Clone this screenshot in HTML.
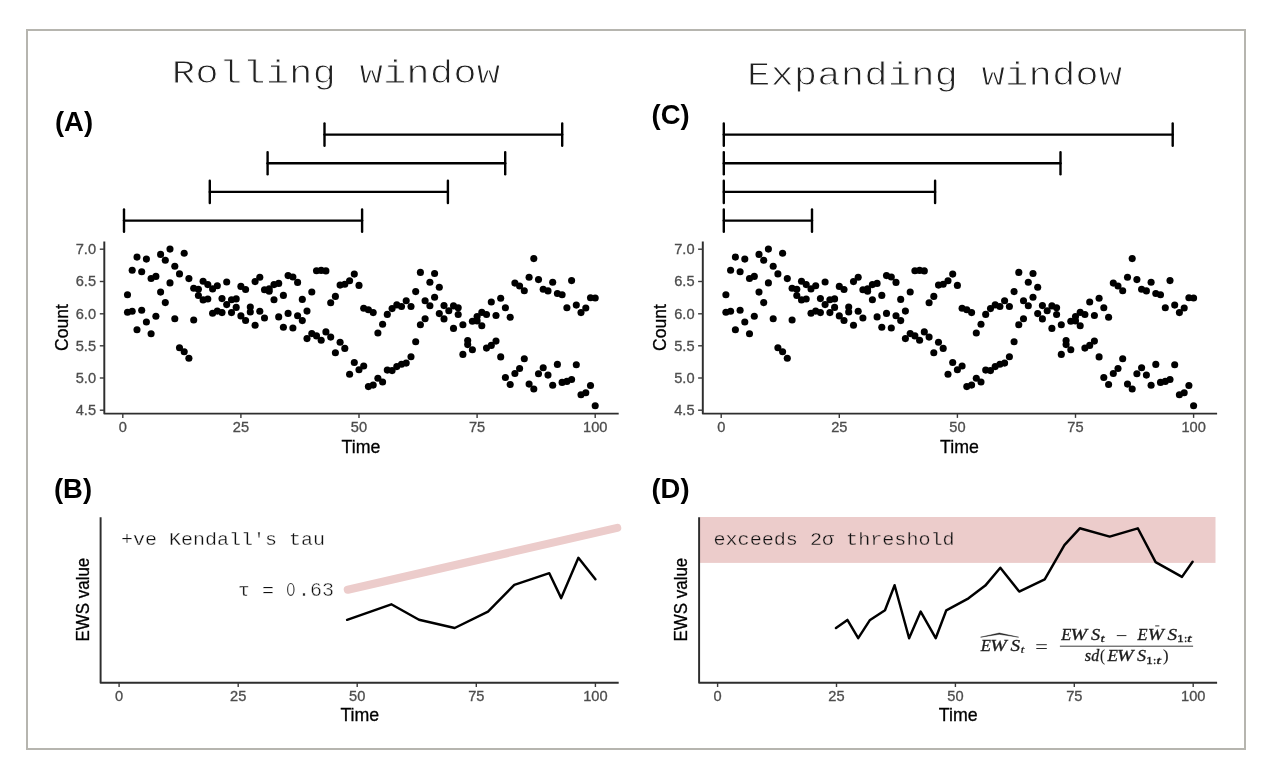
<!DOCTYPE html>
<html><head><meta charset="utf-8"><title>Rolling vs expanding window</title>
<style>
html,body{margin:0;padding:0;background:#fff;}
body{width:1262px;height:778px;overflow:hidden;}
svg{display:block;will-change:transform;}
text{font-family:"Liberation Sans",sans-serif;}
.mono{font-family:"Liberation Mono",monospace;}
.ser{font-family:"Liberation Serif",serif;font-style:italic;}
.tl{font-size:14px;fill:#4d4d4d;stroke:#4d4d4d;stroke-width:0.3px;}
.at{font-size:17.5px;fill:#000;stroke:#000;stroke-width:0.3px;}
.pl{font-size:27.4px;font-weight:bold;fill:#000;}
</style></head><body>
<svg width="1262" height="778" viewBox="0 0 1262 778">
<rect x="0" y="0" width="1262" height="778" fill="#ffffff"/>
<rect x="27" y="30" width="1218" height="719" fill="none" stroke="#b6b5af" stroke-width="2"/>
<text class="mono" transform="translate(336.0,82.9) scale(1,0.86)" font-size="39.1" text-anchor="middle" fill="#222222" stroke="#ffffff" stroke-width="1.1" paint-order="fill stroke" xml:space="preserve">Rolling window</text>
<text class="mono" transform="translate(934.6,84.8) scale(1,0.86)" font-size="39.1" text-anchor="middle" fill="#222222" stroke="#ffffff" stroke-width="1.1" paint-order="fill stroke" xml:space="preserve">Expanding window</text>
<text class="pl" x="55" y="130.9">(A)</text>
<text class="pl" x="651.6" y="123.8">(C)</text>
<text class="pl" x="54" y="497.6">(B)</text>
<text class="pl" x="651.5" y="497.6">(D)</text>
<g stroke="#000" stroke-width="2.4" stroke-linecap="round" fill="none">
<line x1="324.5" y1="134.6" x2="562.2" y2="134.6"/>
<line x1="324.5" y1="123.5" x2="324.5" y2="145.7"/>
<line x1="562.2" y1="123.5" x2="562.2" y2="145.7"/>
</g>
<g stroke="#000" stroke-width="2.4" stroke-linecap="round" fill="none">
<line x1="267.6" y1="163.2" x2="505.2" y2="163.2"/>
<line x1="267.6" y1="152.1" x2="267.6" y2="174.3"/>
<line x1="505.2" y1="152.1" x2="505.2" y2="174.3"/>
</g>
<g stroke="#000" stroke-width="2.4" stroke-linecap="round" fill="none">
<line x1="209.8" y1="191.9" x2="447.9" y2="191.9"/>
<line x1="209.8" y1="180.8" x2="209.8" y2="203.0"/>
<line x1="447.9" y1="180.8" x2="447.9" y2="203.0"/>
</g>
<g stroke="#000" stroke-width="2.4" stroke-linecap="round" fill="none">
<line x1="124.0" y1="220.6" x2="362.1" y2="220.6"/>
<line x1="124.0" y1="209.5" x2="124.0" y2="231.7"/>
<line x1="362.1" y1="209.5" x2="362.1" y2="231.7"/>
</g>
<g stroke="#000" stroke-width="2.4" stroke-linecap="round" fill="none">
<line x1="723.8" y1="134.6" x2="1172.7" y2="134.6"/>
<line x1="723.8" y1="123.5" x2="723.8" y2="145.7"/>
<line x1="1172.7" y1="123.5" x2="1172.7" y2="145.7"/>
</g>
<g stroke="#000" stroke-width="2.4" stroke-linecap="round" fill="none">
<line x1="723.8" y1="163.2" x2="1060.5" y2="163.2"/>
<line x1="723.8" y1="152.1" x2="723.8" y2="174.3"/>
<line x1="1060.5" y1="152.1" x2="1060.5" y2="174.3"/>
</g>
<g stroke="#000" stroke-width="2.4" stroke-linecap="round" fill="none">
<line x1="723.8" y1="191.9" x2="935.1" y2="191.9"/>
<line x1="723.8" y1="180.8" x2="723.8" y2="203.0"/>
<line x1="935.1" y1="180.8" x2="935.1" y2="203.0"/>
</g>
<g stroke="#000" stroke-width="2.4" stroke-linecap="round" fill="none">
<line x1="723.8" y1="220.6" x2="812.0" y2="220.6"/>
<line x1="723.8" y1="209.5" x2="723.8" y2="231.7"/>
<line x1="812.0" y1="209.5" x2="812.0" y2="231.7"/>
</g>
<g>
<path d="M104.3 241.4 V413.6 H618.7" fill="none" stroke="#2e2e2e" stroke-width="1.95" stroke-linejoin="round"/>
<line x1="99.8" y1="249.2" x2="104.3" y2="249.2" stroke="#3a3a3a" stroke-width="1.4"/>
<text class="tl" transform="translate(96.0,253.9) scale(1.045,1)" text-anchor="end">7.0</text>
<line x1="99.8" y1="281.5" x2="104.3" y2="281.5" stroke="#3a3a3a" stroke-width="1.4"/>
<text class="tl" transform="translate(96.0,286.2) scale(1.045,1)" text-anchor="end">6.5</text>
<line x1="99.8" y1="313.8" x2="104.3" y2="313.8" stroke="#3a3a3a" stroke-width="1.4"/>
<text class="tl" transform="translate(96.0,318.5) scale(1.045,1)" text-anchor="end">6.0</text>
<line x1="99.8" y1="345.8" x2="104.3" y2="345.8" stroke="#3a3a3a" stroke-width="1.4"/>
<text class="tl" transform="translate(96.0,350.5) scale(1.045,1)" text-anchor="end">5.5</text>
<line x1="99.8" y1="378.0" x2="104.3" y2="378.0" stroke="#3a3a3a" stroke-width="1.4"/>
<text class="tl" transform="translate(96.0,382.7) scale(1.045,1)" text-anchor="end">5.0</text>
<line x1="99.8" y1="410.2" x2="104.3" y2="410.2" stroke="#3a3a3a" stroke-width="1.4"/>
<text class="tl" transform="translate(96.0,414.9) scale(1.045,1)" text-anchor="end">4.5</text>
<line x1="122.8" y1="413.6" x2="122.8" y2="417.9" stroke="#3a3a3a" stroke-width="1.4"/>
<text class="tl" transform="translate(122.8,431.8) scale(1.045,1)" text-anchor="middle">0</text>
<line x1="240.9" y1="413.6" x2="240.9" y2="417.9" stroke="#3a3a3a" stroke-width="1.4"/>
<text class="tl" transform="translate(240.9,431.8) scale(1.045,1)" text-anchor="middle">25</text>
<line x1="359.0" y1="413.6" x2="359.0" y2="417.9" stroke="#3a3a3a" stroke-width="1.4"/>
<text class="tl" transform="translate(359.0,431.8) scale(1.045,1)" text-anchor="middle">50</text>
<line x1="477.1" y1="413.6" x2="477.1" y2="417.9" stroke="#3a3a3a" stroke-width="1.4"/>
<text class="tl" transform="translate(477.1,431.8) scale(1.045,1)" text-anchor="middle">75</text>
<line x1="595.2" y1="413.6" x2="595.2" y2="417.9" stroke="#3a3a3a" stroke-width="1.4"/>
<text class="tl" transform="translate(595.2,431.8) scale(1.045,1)" text-anchor="middle">100</text>
<text class="at" transform="translate(361.0,452.8) scale(1.015,1)" text-anchor="middle">Time</text>
<text class="at" transform="translate(67.6,327.6) rotate(-90)" text-anchor="middle">Count</text>
<g fill="#000">
<circle cx="127.5" cy="294.7" r="3.55"/>
<circle cx="127.5" cy="312.3" r="3.55"/>
<circle cx="132.2" cy="270.2" r="3.55"/>
<circle cx="132.2" cy="311.3" r="3.55"/>
<circle cx="137.0" cy="257.1" r="3.55"/>
<circle cx="137.0" cy="329.7" r="3.55"/>
<circle cx="141.7" cy="271.8" r="3.55"/>
<circle cx="141.7" cy="310.2" r="3.55"/>
<circle cx="146.4" cy="259.1" r="3.55"/>
<circle cx="146.4" cy="322.0" r="3.55"/>
<circle cx="151.1" cy="278.5" r="3.55"/>
<circle cx="151.1" cy="333.8" r="3.55"/>
<circle cx="155.9" cy="276.4" r="3.55"/>
<circle cx="155.9" cy="316.2" r="3.55"/>
<circle cx="160.6" cy="254.4" r="3.55"/>
<circle cx="160.6" cy="292.1" r="3.55"/>
<circle cx="165.3" cy="260.3" r="3.55"/>
<circle cx="165.3" cy="302.6" r="3.55"/>
<circle cx="170.0" cy="249.1" r="3.55"/>
<circle cx="170.0" cy="282.9" r="3.55"/>
<circle cx="174.8" cy="266.3" r="3.55"/>
<circle cx="174.8" cy="318.8" r="3.55"/>
<circle cx="179.5" cy="273.9" r="3.55"/>
<circle cx="179.5" cy="347.7" r="3.55"/>
<circle cx="184.2" cy="253.2" r="3.55"/>
<circle cx="184.2" cy="351.7" r="3.55"/>
<circle cx="188.9" cy="278.6" r="3.55"/>
<circle cx="188.9" cy="358.3" r="3.55"/>
<circle cx="193.7" cy="288.3" r="3.55"/>
<circle cx="193.7" cy="320.0" r="3.55"/>
<circle cx="198.4" cy="289.2" r="3.55"/>
<circle cx="198.4" cy="295.5" r="3.55"/>
<circle cx="203.1" cy="281.2" r="3.55"/>
<circle cx="203.1" cy="299.9" r="3.55"/>
<circle cx="207.8" cy="284.6" r="3.55"/>
<circle cx="207.8" cy="299.0" r="3.55"/>
<circle cx="212.6" cy="288.9" r="3.55"/>
<circle cx="212.6" cy="313.2" r="3.55"/>
<circle cx="217.3" cy="285.7" r="3.55"/>
<circle cx="217.3" cy="311.1" r="3.55"/>
<circle cx="222.0" cy="298.6" r="3.55"/>
<circle cx="222.0" cy="312.6" r="3.55"/>
<circle cx="226.7" cy="282.0" r="3.55"/>
<circle cx="226.7" cy="304.6" r="3.55"/>
<circle cx="231.5" cy="299.8" r="3.55"/>
<circle cx="231.5" cy="312.6" r="3.55"/>
<circle cx="236.2" cy="298.9" r="3.55"/>
<circle cx="236.2" cy="307.4" r="3.55"/>
<circle cx="240.9" cy="286.4" r="3.55"/>
<circle cx="240.9" cy="315.9" r="3.55"/>
<circle cx="245.6" cy="289.5" r="3.55"/>
<circle cx="245.6" cy="320.5" r="3.55"/>
<circle cx="250.3" cy="307.1" r="3.55"/>
<circle cx="250.3" cy="312.0" r="3.55"/>
<circle cx="255.1" cy="281.6" r="3.55"/>
<circle cx="255.1" cy="325.3" r="3.55"/>
<circle cx="259.8" cy="277.3" r="3.55"/>
<circle cx="259.8" cy="311.2" r="3.55"/>
<circle cx="264.5" cy="289.7" r="3.55"/>
<circle cx="264.5" cy="318.0" r="3.55"/>
<circle cx="269.2" cy="288.8" r="3.55"/>
<circle cx="269.2" cy="291.3" r="3.55"/>
<circle cx="274.0" cy="284.6" r="3.55"/>
<circle cx="274.0" cy="299.8" r="3.55"/>
<circle cx="278.7" cy="283.4" r="3.55"/>
<circle cx="278.7" cy="316.9" r="3.55"/>
<circle cx="283.4" cy="295.4" r="3.55"/>
<circle cx="283.4" cy="327.2" r="3.55"/>
<circle cx="288.1" cy="275.6" r="3.55"/>
<circle cx="288.1" cy="313.4" r="3.55"/>
<circle cx="292.9" cy="277.0" r="3.55"/>
<circle cx="292.9" cy="328.0" r="3.55"/>
<circle cx="297.6" cy="282.4" r="3.55"/>
<circle cx="297.6" cy="315.8" r="3.55"/>
<circle cx="302.3" cy="299.4" r="3.55"/>
<circle cx="302.3" cy="320.6" r="3.55"/>
<circle cx="307.0" cy="311.1" r="3.55"/>
<circle cx="307.0" cy="338.6" r="3.55"/>
<circle cx="311.8" cy="292.0" r="3.55"/>
<circle cx="311.8" cy="333.6" r="3.55"/>
<circle cx="316.5" cy="270.7" r="3.55"/>
<circle cx="316.5" cy="335.9" r="3.55"/>
<circle cx="321.2" cy="270.4" r="3.55"/>
<circle cx="321.2" cy="340.2" r="3.55"/>
<circle cx="325.9" cy="270.9" r="3.55"/>
<circle cx="325.9" cy="331.9" r="3.55"/>
<circle cx="330.7" cy="302.8" r="3.55"/>
<circle cx="330.7" cy="337.1" r="3.55"/>
<circle cx="335.4" cy="296.4" r="3.55"/>
<circle cx="335.4" cy="352.7" r="3.55"/>
<circle cx="340.1" cy="285.1" r="3.55"/>
<circle cx="340.1" cy="342.3" r="3.55"/>
<circle cx="344.8" cy="284.3" r="3.55"/>
<circle cx="344.8" cy="348.4" r="3.55"/>
<circle cx="349.6" cy="280.8" r="3.55"/>
<circle cx="349.6" cy="374.3" r="3.55"/>
<circle cx="354.3" cy="274.1" r="3.55"/>
<circle cx="354.3" cy="362.5" r="3.55"/>
<circle cx="359.0" cy="285.4" r="3.55"/>
<circle cx="359.0" cy="369.8" r="3.55"/>
<circle cx="363.7" cy="308.2" r="3.55"/>
<circle cx="363.7" cy="366.0" r="3.55"/>
<circle cx="368.4" cy="309.7" r="3.55"/>
<circle cx="368.4" cy="386.6" r="3.55"/>
<circle cx="373.2" cy="312.6" r="3.55"/>
<circle cx="373.2" cy="385.1" r="3.55"/>
<circle cx="377.9" cy="333.0" r="3.55"/>
<circle cx="377.9" cy="378.2" r="3.55"/>
<circle cx="382.6" cy="324.2" r="3.55"/>
<circle cx="382.6" cy="382.0" r="3.55"/>
<circle cx="387.3" cy="314.4" r="3.55"/>
<circle cx="387.3" cy="370.1" r="3.55"/>
<circle cx="392.1" cy="308.6" r="3.55"/>
<circle cx="392.1" cy="370.6" r="3.55"/>
<circle cx="396.8" cy="304.9" r="3.55"/>
<circle cx="396.8" cy="366.6" r="3.55"/>
<circle cx="401.5" cy="306.5" r="3.55"/>
<circle cx="401.5" cy="364.3" r="3.55"/>
<circle cx="406.2" cy="300.7" r="3.55"/>
<circle cx="406.2" cy="363.1" r="3.55"/>
<circle cx="411.0" cy="306.5" r="3.55"/>
<circle cx="411.0" cy="356.8" r="3.55"/>
<circle cx="415.7" cy="291.6" r="3.55"/>
<circle cx="415.7" cy="341.7" r="3.55"/>
<circle cx="420.4" cy="272.4" r="3.55"/>
<circle cx="420.4" cy="324.7" r="3.55"/>
<circle cx="425.1" cy="300.7" r="3.55"/>
<circle cx="425.1" cy="318.8" r="3.55"/>
<circle cx="429.9" cy="282.2" r="3.55"/>
<circle cx="429.9" cy="305.7" r="3.55"/>
<circle cx="434.6" cy="273.5" r="3.55"/>
<circle cx="434.6" cy="297.2" r="3.55"/>
<circle cx="439.3" cy="287.2" r="3.55"/>
<circle cx="439.3" cy="313.6" r="3.55"/>
<circle cx="444.0" cy="305.6" r="3.55"/>
<circle cx="444.0" cy="318.9" r="3.55"/>
<circle cx="448.8" cy="310.7" r="3.55"/>
<circle cx="453.5" cy="305.9" r="3.55"/>
<circle cx="453.5" cy="328.4" r="3.55"/>
<circle cx="458.2" cy="307.7" r="3.55"/>
<circle cx="458.2" cy="314.5" r="3.55"/>
<circle cx="462.9" cy="324.7" r="3.55"/>
<circle cx="462.9" cy="354.4" r="3.55"/>
<circle cx="467.7" cy="340.6" r="3.55"/>
<circle cx="467.7" cy="344.6" r="3.55"/>
<circle cx="472.4" cy="321.3" r="3.55"/>
<circle cx="472.4" cy="349.8" r="3.55"/>
<circle cx="477.1" cy="316.6" r="3.55"/>
<circle cx="477.1" cy="320.9" r="3.55"/>
<circle cx="481.8" cy="312.4" r="3.55"/>
<circle cx="481.8" cy="325.7" r="3.55"/>
<circle cx="486.5" cy="314.5" r="3.55"/>
<circle cx="486.5" cy="348.1" r="3.55"/>
<circle cx="491.3" cy="302.0" r="3.55"/>
<circle cx="491.3" cy="345.4" r="3.55"/>
<circle cx="496.0" cy="315.5" r="3.55"/>
<circle cx="496.0" cy="341.1" r="3.55"/>
<circle cx="500.7" cy="298.2" r="3.55"/>
<circle cx="500.7" cy="356.9" r="3.55"/>
<circle cx="505.4" cy="307.8" r="3.55"/>
<circle cx="505.4" cy="377.5" r="3.55"/>
<circle cx="510.2" cy="317.2" r="3.55"/>
<circle cx="510.2" cy="384.5" r="3.55"/>
<circle cx="514.9" cy="283.1" r="3.55"/>
<circle cx="514.9" cy="373.5" r="3.55"/>
<circle cx="519.6" cy="286.0" r="3.55"/>
<circle cx="519.6" cy="368.5" r="3.55"/>
<circle cx="524.3" cy="290.8" r="3.55"/>
<circle cx="524.3" cy="358.7" r="3.55"/>
<circle cx="529.1" cy="277.3" r="3.55"/>
<circle cx="529.1" cy="384.1" r="3.55"/>
<circle cx="533.8" cy="258.6" r="3.55"/>
<circle cx="533.8" cy="389.0" r="3.55"/>
<circle cx="538.5" cy="279.6" r="3.55"/>
<circle cx="538.5" cy="373.7" r="3.55"/>
<circle cx="543.2" cy="289.2" r="3.55"/>
<circle cx="543.2" cy="367.7" r="3.55"/>
<circle cx="548.0" cy="290.9" r="3.55"/>
<circle cx="548.0" cy="375.1" r="3.55"/>
<circle cx="552.7" cy="282.2" r="3.55"/>
<circle cx="552.7" cy="385.3" r="3.55"/>
<circle cx="557.4" cy="293.5" r="3.55"/>
<circle cx="557.4" cy="364.4" r="3.55"/>
<circle cx="562.1" cy="294.7" r="3.55"/>
<circle cx="562.1" cy="382.4" r="3.55"/>
<circle cx="566.9" cy="307.8" r="3.55"/>
<circle cx="566.9" cy="381.4" r="3.55"/>
<circle cx="571.6" cy="280.6" r="3.55"/>
<circle cx="571.6" cy="379.5" r="3.55"/>
<circle cx="576.3" cy="305.1" r="3.55"/>
<circle cx="576.3" cy="364.8" r="3.55"/>
<circle cx="581.0" cy="312.6" r="3.55"/>
<circle cx="581.0" cy="394.8" r="3.55"/>
<circle cx="585.8" cy="308.0" r="3.55"/>
<circle cx="585.8" cy="392.8" r="3.55"/>
<circle cx="590.5" cy="297.8" r="3.55"/>
<circle cx="590.5" cy="385.5" r="3.55"/>
<circle cx="595.2" cy="298.0" r="3.55"/>
<circle cx="595.2" cy="405.7" r="3.55"/>
</g></g>
<g>
<path d="M702.8 241.4 V413.6 H1217.1" fill="none" stroke="#2e2e2e" stroke-width="1.95" stroke-linejoin="round"/>
<line x1="698.1" y1="249.2" x2="702.8" y2="249.2" stroke="#3a3a3a" stroke-width="1.4"/>
<text class="tl" transform="translate(694.5,253.9) scale(1.045,1)" text-anchor="end">7.0</text>
<line x1="698.1" y1="281.5" x2="702.8" y2="281.5" stroke="#3a3a3a" stroke-width="1.4"/>
<text class="tl" transform="translate(694.5,286.2) scale(1.045,1)" text-anchor="end">6.5</text>
<line x1="698.1" y1="313.8" x2="702.8" y2="313.8" stroke="#3a3a3a" stroke-width="1.4"/>
<text class="tl" transform="translate(694.5,318.5) scale(1.045,1)" text-anchor="end">6.0</text>
<line x1="698.1" y1="345.8" x2="702.8" y2="345.8" stroke="#3a3a3a" stroke-width="1.4"/>
<text class="tl" transform="translate(694.5,350.5) scale(1.045,1)" text-anchor="end">5.5</text>
<line x1="698.1" y1="378.0" x2="702.8" y2="378.0" stroke="#3a3a3a" stroke-width="1.4"/>
<text class="tl" transform="translate(694.5,382.7) scale(1.045,1)" text-anchor="end">5.0</text>
<line x1="698.1" y1="410.2" x2="702.8" y2="410.2" stroke="#3a3a3a" stroke-width="1.4"/>
<text class="tl" transform="translate(694.5,414.9) scale(1.045,1)" text-anchor="end">4.5</text>
<line x1="721.2" y1="413.6" x2="721.2" y2="417.9" stroke="#3a3a3a" stroke-width="1.4"/>
<text class="tl" transform="translate(721.2,431.8) scale(1.045,1)" text-anchor="middle">0</text>
<line x1="839.3" y1="413.6" x2="839.3" y2="417.9" stroke="#3a3a3a" stroke-width="1.4"/>
<text class="tl" transform="translate(839.3,431.8) scale(1.045,1)" text-anchor="middle">25</text>
<line x1="957.4" y1="413.6" x2="957.4" y2="417.9" stroke="#3a3a3a" stroke-width="1.4"/>
<text class="tl" transform="translate(957.4,431.8) scale(1.045,1)" text-anchor="middle">50</text>
<line x1="1075.5" y1="413.6" x2="1075.5" y2="417.9" stroke="#3a3a3a" stroke-width="1.4"/>
<text class="tl" transform="translate(1075.5,431.8) scale(1.045,1)" text-anchor="middle">75</text>
<line x1="1193.6" y1="413.6" x2="1193.6" y2="417.9" stroke="#3a3a3a" stroke-width="1.4"/>
<text class="tl" transform="translate(1193.6,431.8) scale(1.045,1)" text-anchor="middle">100</text>
<text class="at" transform="translate(959.4,452.8) scale(1.015,1)" text-anchor="middle">Time</text>
<text class="at" transform="translate(666.0,327.6) rotate(-90)" text-anchor="middle">Count</text>
<g fill="#000">
<circle cx="725.9" cy="294.7" r="3.55"/>
<circle cx="725.9" cy="312.3" r="3.55"/>
<circle cx="730.6" cy="270.2" r="3.55"/>
<circle cx="730.6" cy="311.3" r="3.55"/>
<circle cx="735.4" cy="257.1" r="3.55"/>
<circle cx="735.4" cy="329.7" r="3.55"/>
<circle cx="740.1" cy="271.8" r="3.55"/>
<circle cx="740.1" cy="310.2" r="3.55"/>
<circle cx="744.8" cy="259.1" r="3.55"/>
<circle cx="744.8" cy="322.0" r="3.55"/>
<circle cx="749.5" cy="278.5" r="3.55"/>
<circle cx="749.5" cy="333.8" r="3.55"/>
<circle cx="754.3" cy="276.4" r="3.55"/>
<circle cx="754.3" cy="316.2" r="3.55"/>
<circle cx="759.0" cy="254.4" r="3.55"/>
<circle cx="759.0" cy="292.1" r="3.55"/>
<circle cx="763.7" cy="260.3" r="3.55"/>
<circle cx="763.7" cy="302.6" r="3.55"/>
<circle cx="768.4" cy="249.1" r="3.55"/>
<circle cx="768.4" cy="282.9" r="3.55"/>
<circle cx="773.2" cy="266.3" r="3.55"/>
<circle cx="773.2" cy="318.8" r="3.55"/>
<circle cx="777.9" cy="273.9" r="3.55"/>
<circle cx="777.9" cy="347.7" r="3.55"/>
<circle cx="782.6" cy="253.2" r="3.55"/>
<circle cx="782.6" cy="351.7" r="3.55"/>
<circle cx="787.3" cy="278.6" r="3.55"/>
<circle cx="787.3" cy="358.3" r="3.55"/>
<circle cx="792.1" cy="288.3" r="3.55"/>
<circle cx="792.1" cy="320.0" r="3.55"/>
<circle cx="796.8" cy="289.2" r="3.55"/>
<circle cx="796.8" cy="295.5" r="3.55"/>
<circle cx="801.5" cy="281.2" r="3.55"/>
<circle cx="801.5" cy="299.9" r="3.55"/>
<circle cx="806.2" cy="284.6" r="3.55"/>
<circle cx="806.2" cy="299.0" r="3.55"/>
<circle cx="811.0" cy="288.9" r="3.55"/>
<circle cx="811.0" cy="313.2" r="3.55"/>
<circle cx="815.7" cy="285.7" r="3.55"/>
<circle cx="815.7" cy="311.1" r="3.55"/>
<circle cx="820.4" cy="298.6" r="3.55"/>
<circle cx="820.4" cy="312.6" r="3.55"/>
<circle cx="825.1" cy="282.0" r="3.55"/>
<circle cx="825.1" cy="304.6" r="3.55"/>
<circle cx="829.9" cy="299.8" r="3.55"/>
<circle cx="829.9" cy="312.6" r="3.55"/>
<circle cx="834.6" cy="298.9" r="3.55"/>
<circle cx="834.6" cy="307.4" r="3.55"/>
<circle cx="839.3" cy="286.4" r="3.55"/>
<circle cx="839.3" cy="315.9" r="3.55"/>
<circle cx="844.0" cy="289.5" r="3.55"/>
<circle cx="844.0" cy="320.5" r="3.55"/>
<circle cx="848.7" cy="307.1" r="3.55"/>
<circle cx="848.7" cy="312.0" r="3.55"/>
<circle cx="853.5" cy="281.6" r="3.55"/>
<circle cx="853.5" cy="325.3" r="3.55"/>
<circle cx="858.2" cy="277.3" r="3.55"/>
<circle cx="858.2" cy="311.2" r="3.55"/>
<circle cx="862.9" cy="289.7" r="3.55"/>
<circle cx="862.9" cy="318.0" r="3.55"/>
<circle cx="867.6" cy="288.8" r="3.55"/>
<circle cx="867.6" cy="291.3" r="3.55"/>
<circle cx="872.4" cy="284.6" r="3.55"/>
<circle cx="872.4" cy="299.8" r="3.55"/>
<circle cx="877.1" cy="283.4" r="3.55"/>
<circle cx="877.1" cy="316.9" r="3.55"/>
<circle cx="881.8" cy="295.4" r="3.55"/>
<circle cx="881.8" cy="327.2" r="3.55"/>
<circle cx="886.5" cy="275.6" r="3.55"/>
<circle cx="886.5" cy="313.4" r="3.55"/>
<circle cx="891.3" cy="277.0" r="3.55"/>
<circle cx="891.3" cy="328.0" r="3.55"/>
<circle cx="896.0" cy="282.4" r="3.55"/>
<circle cx="896.0" cy="315.8" r="3.55"/>
<circle cx="900.7" cy="299.4" r="3.55"/>
<circle cx="900.7" cy="320.6" r="3.55"/>
<circle cx="905.4" cy="311.1" r="3.55"/>
<circle cx="905.4" cy="338.6" r="3.55"/>
<circle cx="910.2" cy="292.0" r="3.55"/>
<circle cx="910.2" cy="333.6" r="3.55"/>
<circle cx="914.9" cy="270.7" r="3.55"/>
<circle cx="914.9" cy="335.9" r="3.55"/>
<circle cx="919.6" cy="270.4" r="3.55"/>
<circle cx="919.6" cy="340.2" r="3.55"/>
<circle cx="924.3" cy="270.9" r="3.55"/>
<circle cx="924.3" cy="331.9" r="3.55"/>
<circle cx="929.1" cy="302.8" r="3.55"/>
<circle cx="929.1" cy="337.1" r="3.55"/>
<circle cx="933.8" cy="296.4" r="3.55"/>
<circle cx="933.8" cy="352.7" r="3.55"/>
<circle cx="938.5" cy="285.1" r="3.55"/>
<circle cx="938.5" cy="342.3" r="3.55"/>
<circle cx="943.2" cy="284.3" r="3.55"/>
<circle cx="943.2" cy="348.4" r="3.55"/>
<circle cx="948.0" cy="280.8" r="3.55"/>
<circle cx="948.0" cy="374.3" r="3.55"/>
<circle cx="952.7" cy="274.1" r="3.55"/>
<circle cx="952.7" cy="362.5" r="3.55"/>
<circle cx="957.4" cy="285.4" r="3.55"/>
<circle cx="957.4" cy="369.8" r="3.55"/>
<circle cx="962.1" cy="308.2" r="3.55"/>
<circle cx="962.1" cy="366.0" r="3.55"/>
<circle cx="966.8" cy="309.7" r="3.55"/>
<circle cx="966.8" cy="386.6" r="3.55"/>
<circle cx="971.6" cy="312.6" r="3.55"/>
<circle cx="971.6" cy="385.1" r="3.55"/>
<circle cx="976.3" cy="333.0" r="3.55"/>
<circle cx="976.3" cy="378.2" r="3.55"/>
<circle cx="981.0" cy="324.2" r="3.55"/>
<circle cx="981.0" cy="382.0" r="3.55"/>
<circle cx="985.7" cy="314.4" r="3.55"/>
<circle cx="985.7" cy="370.1" r="3.55"/>
<circle cx="990.5" cy="308.6" r="3.55"/>
<circle cx="990.5" cy="370.6" r="3.55"/>
<circle cx="995.2" cy="304.9" r="3.55"/>
<circle cx="995.2" cy="366.6" r="3.55"/>
<circle cx="999.9" cy="306.5" r="3.55"/>
<circle cx="999.9" cy="364.3" r="3.55"/>
<circle cx="1004.6" cy="300.7" r="3.55"/>
<circle cx="1004.6" cy="363.1" r="3.55"/>
<circle cx="1009.4" cy="306.5" r="3.55"/>
<circle cx="1009.4" cy="356.8" r="3.55"/>
<circle cx="1014.1" cy="291.6" r="3.55"/>
<circle cx="1014.1" cy="341.7" r="3.55"/>
<circle cx="1018.8" cy="272.4" r="3.55"/>
<circle cx="1018.8" cy="324.7" r="3.55"/>
<circle cx="1023.5" cy="300.7" r="3.55"/>
<circle cx="1023.5" cy="318.8" r="3.55"/>
<circle cx="1028.3" cy="282.2" r="3.55"/>
<circle cx="1028.3" cy="305.7" r="3.55"/>
<circle cx="1033.0" cy="273.5" r="3.55"/>
<circle cx="1033.0" cy="297.2" r="3.55"/>
<circle cx="1037.7" cy="287.2" r="3.55"/>
<circle cx="1037.7" cy="313.6" r="3.55"/>
<circle cx="1042.4" cy="305.6" r="3.55"/>
<circle cx="1042.4" cy="318.9" r="3.55"/>
<circle cx="1047.2" cy="310.7" r="3.55"/>
<circle cx="1051.9" cy="305.9" r="3.55"/>
<circle cx="1051.9" cy="328.4" r="3.55"/>
<circle cx="1056.6" cy="307.7" r="3.55"/>
<circle cx="1056.6" cy="314.5" r="3.55"/>
<circle cx="1061.3" cy="324.7" r="3.55"/>
<circle cx="1061.3" cy="354.4" r="3.55"/>
<circle cx="1066.1" cy="340.6" r="3.55"/>
<circle cx="1066.1" cy="344.6" r="3.55"/>
<circle cx="1070.8" cy="321.3" r="3.55"/>
<circle cx="1070.8" cy="349.8" r="3.55"/>
<circle cx="1075.5" cy="316.6" r="3.55"/>
<circle cx="1075.5" cy="320.9" r="3.55"/>
<circle cx="1080.2" cy="312.4" r="3.55"/>
<circle cx="1080.2" cy="325.7" r="3.55"/>
<circle cx="1084.9" cy="314.5" r="3.55"/>
<circle cx="1084.9" cy="348.1" r="3.55"/>
<circle cx="1089.7" cy="302.0" r="3.55"/>
<circle cx="1089.7" cy="345.4" r="3.55"/>
<circle cx="1094.4" cy="315.5" r="3.55"/>
<circle cx="1094.4" cy="341.1" r="3.55"/>
<circle cx="1099.1" cy="298.2" r="3.55"/>
<circle cx="1099.1" cy="356.9" r="3.55"/>
<circle cx="1103.8" cy="307.8" r="3.55"/>
<circle cx="1103.8" cy="377.5" r="3.55"/>
<circle cx="1108.6" cy="317.2" r="3.55"/>
<circle cx="1108.6" cy="384.5" r="3.55"/>
<circle cx="1113.3" cy="283.1" r="3.55"/>
<circle cx="1113.3" cy="373.5" r="3.55"/>
<circle cx="1118.0" cy="286.0" r="3.55"/>
<circle cx="1118.0" cy="368.5" r="3.55"/>
<circle cx="1122.7" cy="290.8" r="3.55"/>
<circle cx="1122.7" cy="358.7" r="3.55"/>
<circle cx="1127.5" cy="277.3" r="3.55"/>
<circle cx="1127.5" cy="384.1" r="3.55"/>
<circle cx="1132.2" cy="258.6" r="3.55"/>
<circle cx="1132.2" cy="389.0" r="3.55"/>
<circle cx="1136.9" cy="279.6" r="3.55"/>
<circle cx="1136.9" cy="373.7" r="3.55"/>
<circle cx="1141.6" cy="289.2" r="3.55"/>
<circle cx="1141.6" cy="367.7" r="3.55"/>
<circle cx="1146.4" cy="290.9" r="3.55"/>
<circle cx="1146.4" cy="375.1" r="3.55"/>
<circle cx="1151.1" cy="282.2" r="3.55"/>
<circle cx="1151.1" cy="385.3" r="3.55"/>
<circle cx="1155.8" cy="293.5" r="3.55"/>
<circle cx="1155.8" cy="364.4" r="3.55"/>
<circle cx="1160.5" cy="294.7" r="3.55"/>
<circle cx="1160.5" cy="382.4" r="3.55"/>
<circle cx="1165.3" cy="307.8" r="3.55"/>
<circle cx="1165.3" cy="381.4" r="3.55"/>
<circle cx="1170.0" cy="280.6" r="3.55"/>
<circle cx="1170.0" cy="379.5" r="3.55"/>
<circle cx="1174.7" cy="305.1" r="3.55"/>
<circle cx="1174.7" cy="364.8" r="3.55"/>
<circle cx="1179.4" cy="312.6" r="3.55"/>
<circle cx="1179.4" cy="394.8" r="3.55"/>
<circle cx="1184.2" cy="308.0" r="3.55"/>
<circle cx="1184.2" cy="392.8" r="3.55"/>
<circle cx="1188.9" cy="297.8" r="3.55"/>
<circle cx="1188.9" cy="385.5" r="3.55"/>
<circle cx="1193.6" cy="298.0" r="3.55"/>
<circle cx="1193.6" cy="405.7" r="3.55"/>
</g></g>
<g>
<line x1="347.8" y1="589.7" x2="617.2" y2="527.9" stroke="#eccccb" stroke-width="8.1" stroke-linecap="round"/>
<path d="M100.6 517.3 V682.8 H618.7" fill="none" stroke="#2e2e2e" stroke-width="1.95" stroke-linejoin="round"/>
<line x1="119.1" y1="682.8" x2="119.1" y2="687.0" stroke="#3a3a3a" stroke-width="1.4"/>
<text class="tl" transform="translate(119.1,700.8) scale(1.045,1)" text-anchor="middle">0</text>
<line x1="238.2" y1="682.8" x2="238.2" y2="687.0" stroke="#3a3a3a" stroke-width="1.4"/>
<text class="tl" transform="translate(238.2,700.8) scale(1.045,1)" text-anchor="middle">25</text>
<line x1="357.2" y1="682.8" x2="357.2" y2="687.0" stroke="#3a3a3a" stroke-width="1.4"/>
<text class="tl" transform="translate(357.2,700.8) scale(1.045,1)" text-anchor="middle">50</text>
<line x1="476.3" y1="682.8" x2="476.3" y2="687.0" stroke="#3a3a3a" stroke-width="1.4"/>
<text class="tl" transform="translate(476.3,700.8) scale(1.045,1)" text-anchor="middle">75</text>
<line x1="595.4" y1="682.8" x2="595.4" y2="687.0" stroke="#3a3a3a" stroke-width="1.4"/>
<text class="tl" transform="translate(595.4,700.8) scale(1.045,1)" text-anchor="middle">100</text>
<text class="at" transform="translate(359.8,720.6) scale(1.015,1)" text-anchor="middle">Time</text>
<text class="at" transform="translate(88.5,599.6) rotate(-90) scale(0.967,1)" text-anchor="middle">EWS value</text>
<text class="mono" transform="translate(121.1,544.6) scale(1,0.88)" font-size="20" text-anchor="start" fill="#101010" stroke="#ffffff" stroke-width="0.35" paint-order="fill stroke" xml:space="preserve">+ve Kendall's tau</text>
<text class="mono" transform="translate(238.0,596.1) scale(1,0.88)" font-size="20" text-anchor="start" fill="#101010" stroke="#ffffff" stroke-width="0.35" paint-order="fill stroke" xml:space="preserve">τ =</text>
<text class="mono" transform="translate(298.0,595.9) scale(1,0.99)" font-size="20" text-anchor="start" fill="#101010" stroke="#ffffff" stroke-width="0.44999999999999996" paint-order="fill stroke" xml:space="preserve">.63</text>
<ellipse cx="290.8" cy="589.4" rx="3.2" ry="5.95" fill="none" stroke="#3a3a3a" stroke-width="1.15"/>
<polyline points="347.1,619.8 391.3,604.3 419.0,619.8 454.7,628.0 488.0,611.6 514.3,584.9 549.3,573.2 561.2,598.1 578.4,557.8 595.4,579.3" fill="none" stroke="#000" stroke-width="2.45" stroke-linejoin="round" stroke-linecap="round"/>
</g>
<g>
<rect x="700.0" y="517.0" width="515.5" height="45.9" fill="#eccccb"/>
<path d="M699.1 517.3 V682.8 H1217.1" fill="none" stroke="#2e2e2e" stroke-width="1.95" stroke-linejoin="round"/>
<line x1="717.6" y1="682.8" x2="717.6" y2="687.0" stroke="#3a3a3a" stroke-width="1.4"/>
<text class="tl" transform="translate(717.6,700.8) scale(1.045,1)" text-anchor="middle">0</text>
<line x1="836.5" y1="682.8" x2="836.5" y2="687.0" stroke="#3a3a3a" stroke-width="1.4"/>
<text class="tl" transform="translate(836.5,700.8) scale(1.045,1)" text-anchor="middle">25</text>
<line x1="955.4" y1="682.8" x2="955.4" y2="687.0" stroke="#3a3a3a" stroke-width="1.4"/>
<text class="tl" transform="translate(955.4,700.8) scale(1.045,1)" text-anchor="middle">50</text>
<line x1="1074.3" y1="682.8" x2="1074.3" y2="687.0" stroke="#3a3a3a" stroke-width="1.4"/>
<text class="tl" transform="translate(1074.3,700.8) scale(1.045,1)" text-anchor="middle">75</text>
<line x1="1193.2" y1="682.8" x2="1193.2" y2="687.0" stroke="#3a3a3a" stroke-width="1.4"/>
<text class="tl" transform="translate(1193.2,700.8) scale(1.045,1)" text-anchor="middle">100</text>
<text class="at" transform="translate(958.2,720.6) scale(1.015,1)" text-anchor="middle">Time</text>
<text class="at" transform="translate(686.9,599.6) rotate(-90) scale(0.967,1)" text-anchor="middle">EWS value</text>
<text class="mono" transform="translate(713.5,544.6) scale(1,0.88)" font-size="20.1" text-anchor="start" fill="#101010" stroke="#eccccb" stroke-width="0.35" paint-order="fill stroke" xml:space="preserve">exceeds 2σ threshold</text>
<polyline points="836.0,628.0 847.4,619.9 858.2,638.2 869.7,620.3 885.0,610.3 894.6,585.2 909.1,638.2 920.7,611.6 935.7,638.2 946.3,610.3 968.5,598.3 985.3,585.6 1000.3,567.8 1019.2,591.6 1044.7,579.4 1064.4,545.1 1079.8,528.3 1109.7,536.6 1137.8,528.3 1155.6,562.1 1182.0,576.9 1192.6,561.7" fill="none" stroke="#000" stroke-width="2.45" stroke-linejoin="round" stroke-linecap="round"/>
<text transform="translate(980.76,650.60) scale(1.002,1)" font-size="16.6" fill="#1c1c1c" stroke="#1c1c1c" stroke-width="0.3" style="font-family:'Liberation Serif',serif;font-style:italic;">E</text>
<text transform="translate(990.32,650.60) scale(1.190,1)" font-size="16.6" fill="#1c1c1c" stroke="#1c1c1c" stroke-width="0.3" style="font-family:'Liberation Serif',serif;font-style:italic;">W</text>
<text transform="translate(1010.41,650.60) scale(1.154,1)" font-size="16.6" fill="#1c1c1c" stroke="#1c1c1c" stroke-width="0.3" style="font-family:'Liberation Serif',serif;font-style:italic;">S</text>
<text transform="translate(1020.49,652.90) scale(1.357,1)" font-size="10.8" fill="#1c1c1c" stroke="#1c1c1c" stroke-width="0.15" style="font-family:'Liberation Serif',serif;font-style:italic;">t</text>
<path d="M980.6 637.2 L999.3 633.0 L1018.6 637.2 L999.3 634.3 Z" fill="#1c1c1c" stroke="#1c1c1c" stroke-width="0.45" stroke-linejoin="round"/>
<path d="M1036.3 644.7 H1046.8 M1036.3 648.5 H1046.8" stroke="#1c1c1c" stroke-width="0.95" fill="none"/>
<line x1="1059.9" y1="646.2" x2="1193.1" y2="646.2" stroke="#3c3c3c" stroke-width="1.0"/>
<text transform="translate(1061.26,639.70) scale(0.992,1)" font-size="16.6" fill="#1c1c1c" stroke="#1c1c1c" stroke-width="0.3" style="font-family:'Liberation Serif',serif;font-style:italic;">E</text>
<text transform="translate(1070.61,639.70) scale(1.198,1)" font-size="16.6" fill="#1c1c1c" stroke="#1c1c1c" stroke-width="0.3" style="font-family:'Liberation Serif',serif;font-style:italic;">W</text>
<text transform="translate(1090.92,639.70) scale(1.102,1)" font-size="16.6" fill="#1c1c1c" stroke="#1c1c1c" stroke-width="0.3" style="font-family:'Liberation Serif',serif;font-style:italic;">S</text>
<text transform="translate(1100.47,641.60) scale(1.393,1)" font-size="10.8" fill="#1c1c1c" stroke="#1c1c1c" stroke-width="0.3" style="font-family:'Liberation Serif',serif;font-style:italic;">t</text>
<line x1="1116.8" y1="635.6" x2="1126.4" y2="635.6" stroke="#1c1c1c" stroke-width="0.95"/>
<text transform="translate(1137.46,639.70) scale(0.992,1)" font-size="16.6" fill="#1c1c1c" stroke="#1c1c1c" stroke-width="0.3" style="font-family:'Liberation Serif',serif;font-style:italic;">E</text>
<text transform="translate(1147.85,639.70) scale(1.162,1)" font-size="16.6" fill="#1c1c1c" stroke="#1c1c1c" stroke-width="0.3" style="font-family:'Liberation Serif',serif;font-style:italic;">W</text>
<line x1="1155.2" y1="625.9" x2="1159.3" y2="625.9" stroke="#1c1c1c" stroke-width="0.9"/>
<text transform="translate(1167.51,639.70) scale(1.154,1)" font-size="16.6" fill="#1c1c1c" stroke="#1c1c1c" stroke-width="0.3" style="font-family:'Liberation Serif',serif;font-style:italic;">S</text>
<text transform="translate(1176.96,641.70) scale(1.261,1)" font-size="10.8" fill="#1c1c1c" stroke="#1c1c1c" stroke-width="0.3" style="font-family:'Liberation Serif',serif;">1</text>
<text transform="translate(1183.90,641.70) scale(1.103,1)" font-size="10.8" fill="#1c1c1c" stroke="#1c1c1c" stroke-width="0.3" style="font-family:'Liberation Serif',serif;">:</text>
<text transform="translate(1186.88,641.70) scale(1.577,1)" font-size="10.8" fill="#1c1c1c" stroke="#1c1c1c" stroke-width="0.3" style="font-family:'Liberation Serif',serif;font-style:italic;">t</text>
<text transform="translate(1084.85,661.30) scale(0.978,1)" font-size="16.6" fill="#1c1c1c" stroke="#1c1c1c" stroke-width="0.3" style="font-family:'Liberation Serif',serif;font-style:italic;">s</text>
<text transform="translate(1091.17,661.30) scale(0.969,1)" font-size="16.6" fill="#1c1c1c" stroke="#1c1c1c" stroke-width="0.3" style="font-family:'Liberation Serif',serif;font-style:italic;">d</text>
<text transform="translate(1099.98,661.30) scale(0.882,1)" font-size="16.9" fill="#1c1c1c" stroke="#1c1c1c" stroke-width="0.15" style="font-family:'Liberation Serif',serif;">(</text>
<text transform="translate(1107.56,661.30) scale(1.031,1)" font-size="16.6" fill="#1c1c1c" stroke="#1c1c1c" stroke-width="0.3" style="font-family:'Liberation Serif',serif;font-style:italic;">E</text>
<text transform="translate(1116.92,661.30) scale(1.190,1)" font-size="16.6" fill="#1c1c1c" stroke="#1c1c1c" stroke-width="0.3" style="font-family:'Liberation Serif',serif;font-style:italic;">W</text>
<text transform="translate(1137.12,661.30) scale(1.089,1)" font-size="16.6" fill="#1c1c1c" stroke="#1c1c1c" stroke-width="0.3" style="font-family:'Liberation Serif',serif;font-style:italic;">S</text>
<text transform="translate(1146.06,663.90) scale(1.261,1)" font-size="10.8" fill="#1c1c1c" stroke="#1c1c1c" stroke-width="0.3" style="font-family:'Liberation Serif',serif;">1</text>
<text transform="translate(1153.00,663.90) scale(1.103,1)" font-size="10.8" fill="#1c1c1c" stroke="#1c1c1c" stroke-width="0.3" style="font-family:'Liberation Serif',serif;">:</text>
<text transform="translate(1156.37,663.90) scale(1.613,1)" font-size="10.8" fill="#1c1c1c" stroke="#1c1c1c" stroke-width="0.3" style="font-family:'Liberation Serif',serif;font-style:italic;">t</text>
<text transform="translate(1162.91,661.30) scale(0.988,1)" font-size="16.9" fill="#1c1c1c" stroke="#1c1c1c" stroke-width="0.15" style="font-family:'Liberation Serif',serif;">)</text>
</g>
</svg>
</body></html>
